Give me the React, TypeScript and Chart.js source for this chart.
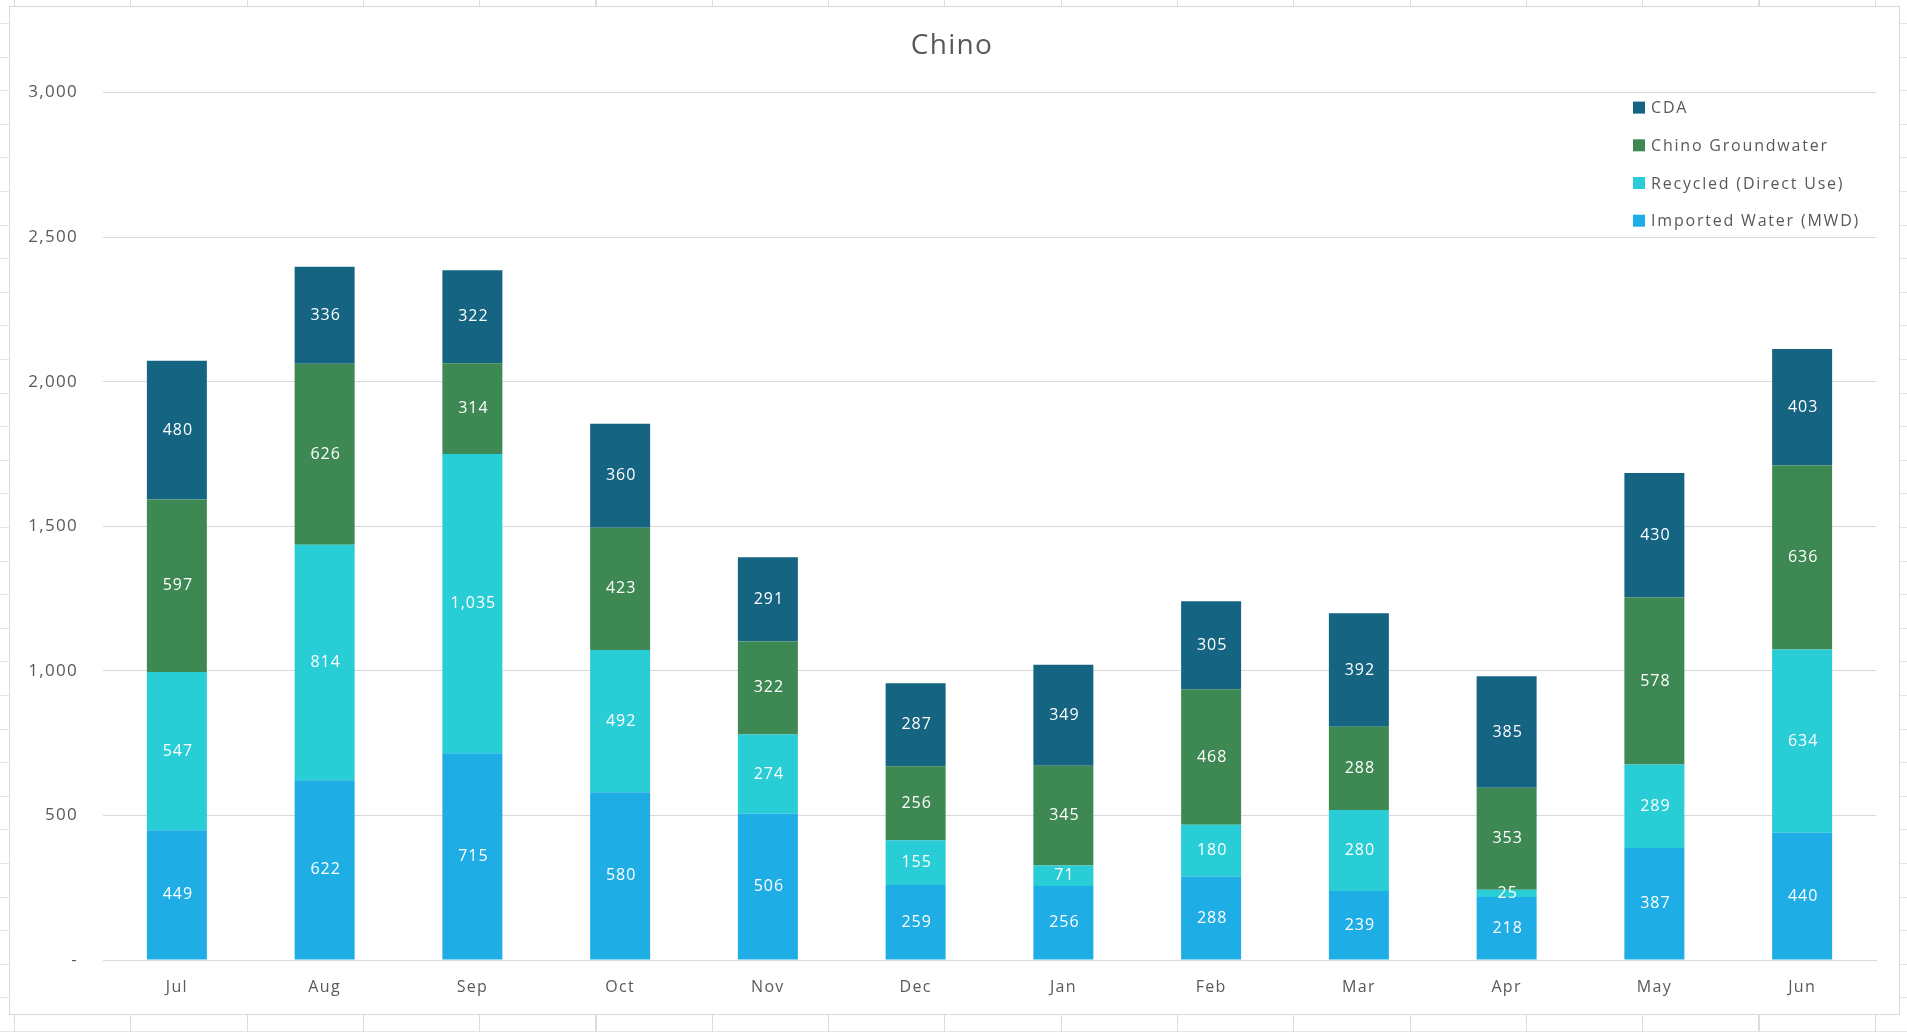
import React, { useEffect, useRef } from "react";
import { Chart, registerables } from "chart.js";

Chart.register(...registerables);

const months = ["Jul", "Aug", "Sep", "Oct", "Nov", "Dec", "Jan", "Feb", "Mar", "Apr", "May", "Jun"];
const importedWater = [449, 622, 715, 580, 506, 259, 256, 288, 239, 218, 387, 440];
const recycled = [547, 814, 1035, 492, 274, 155, 71, 180, 280, 25, 289, 634];
const chinoGroundwater = [597, 626, 314, 423, 322, 256, 345, 468, 288, 353, 578, 636];
const cda = [480, 336, 322, 360, 291, 287, 349, 305, 392, 385, 430, 403];
const yTicks = [0, 500, 1000, 1500, 2000, 2500, 3000];

const FONT = "'Open Sans', 'Noto Sans', sans-serif";
const GREY = "#595959";

const spacingPlugin = {
  id: "spacing",
  beforeDraw(chart: any) {
    chart.ctx.letterSpacing = "1.3px";
  },
};

const dataLabelPlugin = {
  id: "dataLabels",
  afterDatasetsDraw(chart: any) {
    const ctx = chart.ctx;
    ctx.save();
    ctx.letterSpacing = "1px";
    ctx.font = `16px ${FONT}`;
    ctx.fillStyle = "#ffffff";
    ctx.textAlign = "center";
    ctx.textBaseline = "middle";
    chart.data.datasets.forEach((ds: any, di: number) => {
      const meta = chart.getDatasetMeta(di);
      meta.data.forEach((bar: any, i: number) => {
        const v = ds.data[i];
        const y = (bar.y + bar.base) / 2;
        ctx.fillText(Number(v).toLocaleString("en-US"), bar.x + 1, y);
      });
    });
    ctx.restore();
  },
};

const legendPlugin = {
  id: "customLegend",
  afterDraw(chart: any) {
    const ctx = chart.ctx;
    const area = chart.chartArea;
    const ds = chart.data.datasets.slice().reverse();
    ctx.save();
    ctx.letterSpacing = "1.8px";
    ctx.font = `16px ${FONT}`;
    ctx.textAlign = "left";
    ctx.textBaseline = "middle";
    const x0 = area.right - 243;
    ds.forEach((d: any, i: number) => {
      const cy = area.top + 15 + i * 37.7;
      ctx.fillStyle = d.backgroundColor;
      ctx.fillRect(x0, cy - 6, 12, 12);
      ctx.fillStyle = GREY;
      ctx.fillText(d.label, x0 + 18, cy + 1);
    });
    ctx.restore();
  },
};

export default function App() {
  const ref = useRef<HTMLCanvasElement | null>(null);

  useEffect(() => {
    document.body.style.margin = "0";
    if (!ref.current) return;
    const chart = new Chart(ref.current, {
      type: "bar",
      data: {
        labels: months,
        datasets: [
          { label: "Imported Water (MWD)", data: importedWater, backgroundColor: "#1EADE4" },
          { label: "Recycled (Direct Use)", data: recycled, backgroundColor: "#28CDD6" },
          { label: "Chino Groundwater", data: chinoGroundwater, backgroundColor: "#3E8953" },
          { label: "CDA", data: cda, backgroundColor: "#156482" },
        ],
      },
      options: {
        responsive: false,
        animation: false,
        devicePixelRatio: 1,
        layout: { padding: { left: 18, right: 23, top: 0, bottom: 0 } },
        datasets: {
          bar: { categoryPercentage: 1, barPercentage: 0.406, borderWidth: 0 },
        },
        plugins: {
          legend: { display: false },
          tooltip: { enabled: false },
          title: {
            display: true,
            text: "Chino",
            color: GREY,
            font: { family: FONT, size: 28, weight: "normal" },
            padding: { top: 22, bottom: 30 },
          },
        },
        scales: {
          x: {
            stacked: true,
            grid: { display: false, drawTicks: false },
            border: { display: true, color: "#d9d9d9", width: 1 },
            ticks: { color: GREY, font: { family: FONT, size: 16 }, padding: 18 },
            afterFit(scale: any) {
              scale.height = 54;
            },
          },
          y: {
            stacked: true,
            min: 0,
            max: 3000,
            afterBuildTicks(scale: any) {
              scale.ticks = yTicks.map((v) => ({ value: v }));
            },
            grid: { color: "#d9d9d9", lineWidth: 1, drawTicks: false },
            border: { display: false },
            ticks: {
              color: GREY,
              font: { family: FONT, size: 17 },
              padding: 25,
              callback: (v: any) => (Number(v) === 0 ? "-" : Number(v).toLocaleString("en-US")),
            },
            afterFit(scale: any) {
              scale.width = 75;
            },
          },
        },
      },
      plugins: [spacingPlugin, dataLabelPlugin, legendPlugin],
    } as any);
    return () => chart.destroy();
  }, []);

  const bg: React.CSSProperties = {
    position: "relative",
    width: 1907,
    height: 1032,
    overflow: "hidden",
    backgroundColor: "#ffffff",
    backgroundImage:
      "repeating-linear-gradient(to right, #dcdcdc 0px, #dcdcdc 1px, transparent 1px, transparent 116.3px), repeating-linear-gradient(to bottom, #e4e4e4 0px, #e4e4e4 1px, transparent 1px, transparent 33.6px)",
    backgroundPosition: "14px 0px, 0px 23px",
  };

  return (
    <div style={bg}>
      <div
        style={{
          position: "absolute",
          left: 9,
          top: 6,
          width: 1891,
          height: 1009,
          boxSizing: "border-box",
          border: "1px solid #d9d9d9",
          background: "#ffffff",
        }}
      >
        <canvas ref={ref} width={1889} height={1007} style={{ display: "block" }} />
      </div>
    </div>
  );
}
